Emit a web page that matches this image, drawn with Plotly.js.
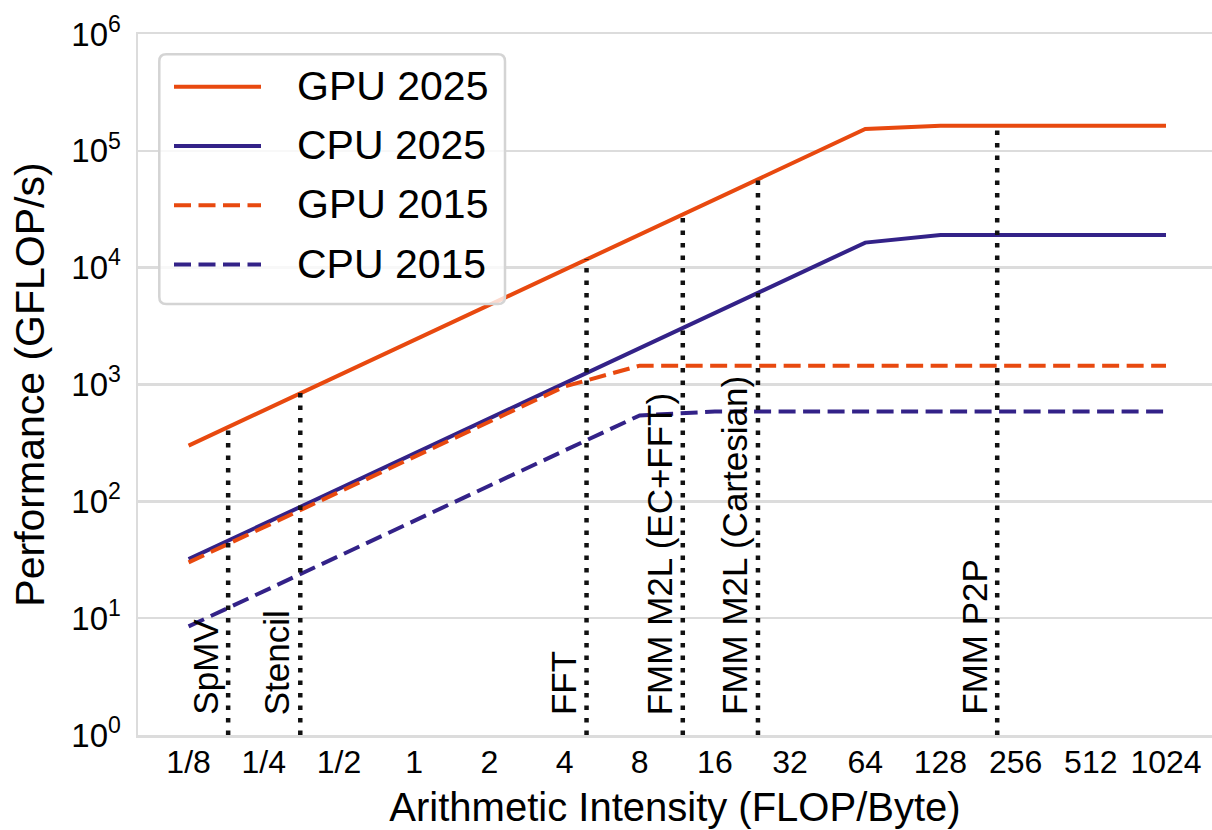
<!DOCTYPE html>
<html>
<head>
<meta charset="utf-8">
<script src="https://cdn.plot.ly/plotly-3.0.1.min.js"></script>
<style>
html,body{margin:0;padding:0;background:#ffffff;}
#chart{width:1212px;height:830px;}
</style>
</head>
<body>
<div id="chart"></div>
<script>
// ---- data ----
const intensity = [0.125, 0.25, 0.5, 1, 2, 4, 8, 16, 32, 64, 128, 256, 512, 1024];
const xTickLabels = ["1/8", "1/4", "1/2", "1", "2", "4", "8", "16", "32", "64", "128", "256", "512", "1024"];

const gpu2025 = [300, 600, 1200, 2400, 4800, 9600, 19200, 38400, 76800, 153600, 164000, 164000, 164000, 164000];
const cpu2025 = [32, 64, 128, 256, 512, 1024, 2048, 4096, 8192, 16384, 19000, 19000, 19000, 19000];
const gpu2015 = [30, 60, 120, 240, 480, 960, 1450, 1450, 1450, 1450, 1450, 1450, 1450, 1450];
const cpu2015 = [8.5, 17, 34, 68, 136, 272, 544, 586, 586, 586, 586, 586, 586, 586];

const seriesNames = ["GPU 2025", "CPU 2025", "GPU 2015", "CPU 2015"];

const yTickVals = [1, 10, 100, 1000, 10000, 100000, 1000000];
const yTickText = ["10<sup>0</sup>", "10<sup>1</sup>", "10<sup>2</sup>", "10<sup>3</sup>", "10<sup>4</sup>", "10<sup>5</sup>", "10<sup>6</sup>"];

const kernelNames = ["SpMV", "Stencil", "FFT", "FMM M2L (EC+FFT)", "FMM M2L (Cartesian)", "FMM P2P"];
const kernelAI = [0.18, 0.35, 4.9, 11.9, 23.8, 216];
const kernelTop = [437, 845, 11800, 28600, 57100, 164000];
const kernelBase = 1;

// ---- styling ----
const ORANGE = "#E8490F";
const INDIGO = "#332288";
const FONT = "Liberation Sans, Arial, Helvetica, sans-serif";
const GRID = "#dcdcdc";
const DASH = "17px,7.5px";

const styles = [
  {color: ORANGE, dash: "solid"},
  {color: INDIGO, dash: "solid"},
  {color: ORANGE, dash: DASH},
  {color: INDIGO, dash: DASH}
];
const seriesData = [gpu2025, cpu2025, gpu2015, cpu2015];

const traces = seriesData.map((ys, i) => ({
  type: "scatter",
  mode: "lines",
  name: seriesNames[i],
  x: intensity,
  y: ys,
  line: {color: styles[i].color, width: 4, dash: styles[i].dash},
  showlegend: false,
  hoverinfo: "x+y+name"
}));

// kernel dotted verticals
kernelAI.forEach((ai, i) => {
  traces.push({
    type: "scatter",
    mode: "lines",
    name: kernelNames[i],
    x: [ai, ai],
    y: [kernelBase, kernelTop[i]],
    line: {color: "#111111", width: 4.5, dash: "4.5px,8px"},
    showlegend: false,
    hoverinfo: "skip"
  });
});

const annotations = kernelNames.map((name, i) => ({
  x: Math.log10(kernelAI[i]),
  xref: "x",
  y: 0,
  yref: "paper",
  text: name,
  textangle: -90,
  showarrow: false,
  xanchor: "right",
  yanchor: "bottom",
  xshift: -2,
  yshift: 18,
  font: {family: FONT, size: 35, color: "#000000"}
}));

// ---- legend (drawn as a framed key in paper coordinates) ----
const PW = 1074, PH = 701, ML = 138, MT = 34;
const px2x = (px) => (px - ML) / PW;
const px2y = (py) => 1 - (py - MT) / PH;

const lx0 = px2x(159.3), lx1 = px2x(505), ly0 = px2y(304), ly1 = px2y(54.3);
const rx = 7 / PW, ry = 7 / PH;
const legendPath =
  `M ${lx0 + rx},${ly1} L ${lx1 - rx},${ly1} Q ${lx1},${ly1} ${lx1},${ly1 - ry} ` +
  `L ${lx1},${ly0 + ry} Q ${lx1},${ly0} ${lx1 - rx},${ly0} ` +
  `L ${lx0 + rx},${ly0} Q ${lx0},${ly0} ${lx0},${ly0 + ry} ` +
  `L ${lx0},${ly1 - ry} Q ${lx0},${ly1} ${lx0 + rx},${ly1} Z`;

const shapes = [{
  type: "path",
  xref: "paper",
  yref: "paper",
  path: legendPath,
  fillcolor: "rgba(255,255,255,0.8)",
  line: {color: "#d4d4d4", width: 2.5},
  layer: "above"
}];

const legendRowPx = [86.7, 146, 205.3, 264.6];
seriesNames.forEach((name, i) => {
  const yy = px2y(legendRowPx[i]);
  shapes.push({
    type: "line",
    xref: "paper",
    yref: "paper",
    x0: px2x(174), x1: px2x(261),
    y0: yy, y1: yy,
    line: {color: styles[i].color, width: 4, dash: styles[i].dash},
    layer: "above"
  });
  annotations.push({
    xref: "paper",
    yref: "paper",
    x: px2x(295),
    y: yy,
    text: name,
    showarrow: false,
    xanchor: "left",
    yanchor: "middle",
    yshift: 1,
    font: {family: FONT, size: 41, color: "#000000"}
  });
});

const layout = {
  width: 1212,
  height: 830,
  paper_bgcolor: "#ffffff",
  plot_bgcolor: "#ffffff",
  margin: {l: ML, r: 0, t: MT, b: 95, pad: 0},
  font: {family: FONT, size: 32, color: "#000000"},
  showlegend: false,
  xaxis: {
    type: "log",
    range: [-1.1057, 3.1945],
    tickvals: intensity,
    ticktext: xTickLabels,
    ticks: "",
    ticklabelstandoff: -3,
    tickfont: {family: FONT, size: 32, color: "#000000"},
    showgrid: false,
    zeroline: false,
    showline: true,
    mirror: true,
    linecolor: GRID,
    linewidth: 2.5,
    automargin: false,
    title: {text: "Arithmetic Intensity (FLOP/Byte)", font: {family: FONT, size: 40, color: "#000000"}, standoff: 14}
  },
  yaxis: {
    type: "log",
    range: [0, 6],
    tickvals: yTickVals,
    ticktext: yTickText,
    ticks: "outside",
    ticklen: 8,
    tickcolor: "rgba(0,0,0,0)",
    tickfont: {family: FONT, size: 33, color: "#000000"},
    showgrid: true,
    gridcolor: GRID,
    gridwidth: 2.5,
    zeroline: false,
    showline: true,
    linecolor: GRID,
    linewidth: 2.5,
    automargin: false,
    title: {text: "Performance (GFLOP/s)", font: {family: FONT, size: 41, color: "#000000"}, standoff: 14}
  },
  shapes: shapes,
  annotations: annotations
};

Plotly.newPlot("chart", traces, layout, {displayModeBar: false, staticPlot: true});
</script>
</body>
</html>
